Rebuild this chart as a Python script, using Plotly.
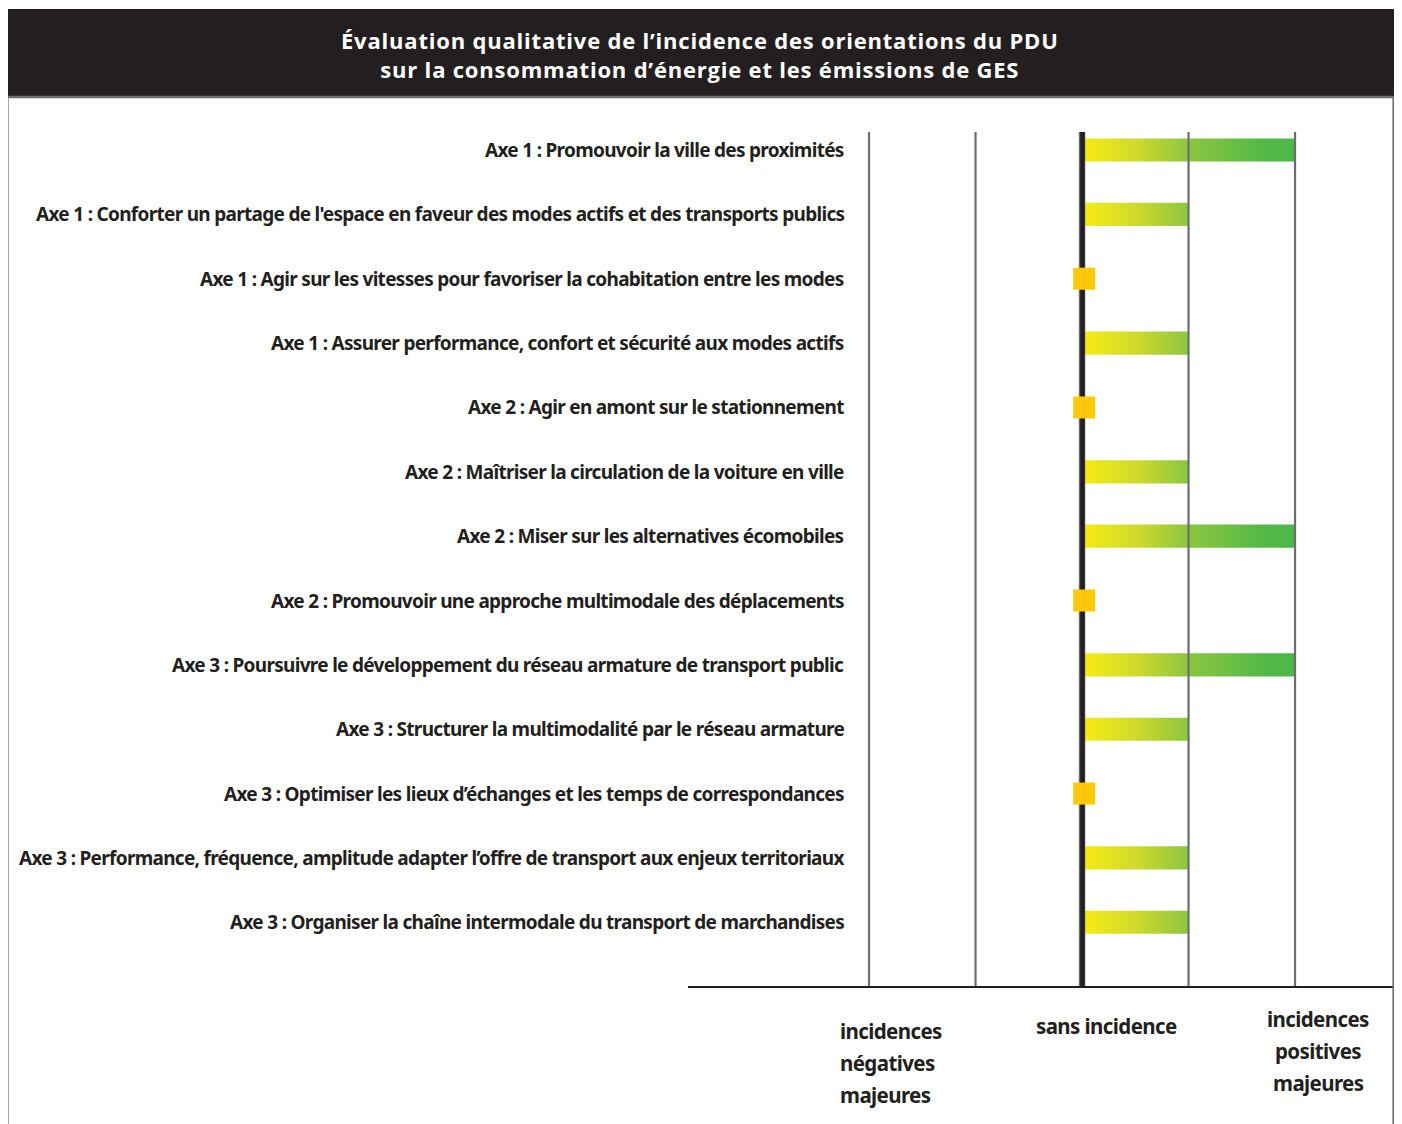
import plotly.graph_objects as go

# ---------------- data ----------------
categories = [
    "Axe 1 : Promouvoir la ville des proximités",
    "Axe 1 : Conforter un partage de l'espace en faveur des modes actifs et des transports publics",
    "Axe 1 : Agir sur les vitesses pour favoriser la cohabitation entre les modes",
    "Axe 1 : Assurer performance, confort et sécurité aux modes actifs",
    "Axe 2 : Agir en amont sur le stationnement",
    "Axe 2 : Maîtriser la circulation de la voiture en ville",
    "Axe 2 : Miser sur les alternatives écomobiles",
    "Axe 2 : Promouvoir une approche multimodale des déplacements",
    "Axe 3 : Poursuivre le développement du réseau armature de transport public",
    "Axe 3 : Structurer la multimodalité par le réseau armature",
    "Axe 3 : Optimiser les lieux d’échanges et les temps de correspondances",
    "Axe 3 : Performance, fréquence, amplitude adapter l’offre de transport aux enjeux territoriaux",
    "Axe 3 : Organiser la chaîne intermodale du transport de marchandises",
]
scores = [2, 1, 0, 1, 0, 1, 2, 0, 2, 1, 0, 1, 1]
grid_values = [-2, -1, 1, 2]
zero_value = 0
title_lines = ["Évaluation qualitative de l’incidence des orientations du PDU",
               "sur la consommation d’énergie et les émissions de GES"]
left_label = ["incidences", "négatives", "majeures"]
mid_label = ["sans incidence"]
right_label = ["incidences", "positives", "majeures"]

# ---------------- layout geometry ----------------
PAGE_OFF = 8            # default body margin of the html page
W, H = 1394, 1116
X_RANGE = [-3.70, 2.92]
Y_RANGE = [12.99, -0.28]
BAR_HALF = 0.18
LABEL_FONT = "Noto Sans, sans-serif"
DARK = "#231f20"
GRAY = "#6d6e71"


def px_x(p):
    return (p - PAGE_OFF) / W


def px_y(p):
    return 1 - (p - PAGE_OFF) / H


def cond(t, ls):
    return ('<span style="font-stretch:condensed;letter-spacing:%spx">' % ls) + t + '</span>'


fig = go.Figure()

# gradient bars
for i, v in enumerate(scores):
    if v > 0:
        fig.add_trace(go.Scatter(
            x=[0, v, v, 0, 0],
            y=[i - BAR_HALF, i - BAR_HALF, i + BAR_HALF, i + BAR_HALF, i - BAR_HALF],
            mode="lines", line=dict(width=0), fill="toself",
            fillgradient=dict(type="horizontal", start=0, stop=2,
                              colorscale=[[0, "#f8ec12"], [0.25, "#cfdb2c"],
                                          [0.5, "#8cc63f"], [0.85, "#52b848"],
                                          [1, "#4cb748"]]),
            hoverinfo="skip", showlegend=False,
        ))

# grid lines (drawn over the bars)
for g in grid_values:
    fig.add_trace(go.Scatter(x=[g, g], y=[Y_RANGE[1], Y_RANGE[0]], mode="lines",
                             line=dict(color=GRAY, width=2.2),
                             hoverinfo="skip", showlegend=False))
fig.add_trace(go.Scatter(x=[zero_value, zero_value], y=[Y_RANGE[1], Y_RANGE[0]], mode="lines",
                         line=dict(color=GRAY, width=6.5),
                         hoverinfo="skip", showlegend=False))
fig.add_trace(go.Scatter(x=[zero_value + 0.004, zero_value + 0.004], y=[Y_RANGE[1], Y_RANGE[0]],
                         mode="lines", line=dict(color=DARK, width=4.5),
                         hoverinfo="skip", showlegend=False))

# neutral squares
neutral_idx = [i for i, v in enumerate(scores) if v == 0]
fig.add_trace(go.Scatter(
    x=[scores[i] + 0.02 for i in neutral_idx], y=neutral_idx, mode="markers",
    marker=dict(symbol="square", size=22, color="#ffc90a", line=dict(width=0)),
    hoverinfo="skip", showlegend=False,
))

annotations = []
for i, c in enumerate(categories):
    annotations.append(dict(
        x=px_x(846), xref="paper", y=i, yref="y", text=cond(c, -0.7), showarrow=False,
        xanchor="right", yanchor="middle",
        font=dict(family=LABEL_FONT, size=19, color=DARK, weight="bold"),
    ))

# title (two lines in one text block)
annotations.append(dict(
    x=px_x(700), xref="paper", y=px_y(54.5), yref="paper",
    text='<span style="letter-spacing:0.8px">' + "<br>".join(title_lines) + "</span>",
    showarrow=False, xanchor="center", yanchor="middle", align="center",
    font=dict(family="Open Sans, Lato, sans-serif", size=22, color="white", weight="bold"),
))


def add_lines(lines, x, y0, step, anchor):
    for k, t in enumerate(lines):
        annotations.append(dict(
            x=px_x(x), xref="paper", y=px_y(y0 + step * k), yref="paper", text=cond(t, -0.6),
            showarrow=False, xanchor=anchor, yanchor="middle",
            font=dict(family=LABEL_FONT, size=20.5, color=DARK, weight="bold"),
        ))


add_lines(left_label, 838, 1031, 32, "left")
add_lines(mid_label, 1106, 1026, 32, "center")
add_lines(right_label, 1318, 1019, 32, "center")

shapes = [
    # title bar
    dict(type="rect", xref="paper", yref="paper", x0=px_x(6), x1=px_x(1396),
         y0=px_y(96), y1=px_y(9), fillcolor=DARK, line=dict(width=0), layer="below"),
    dict(type="line", xref="paper", yref="paper", x0=px_x(6), x1=px_x(1396),
         y0=px_y(97), y1=px_y(97), line=dict(color=GRAY, width=2.5)),
    # frame
    dict(type="line", xref="paper", yref="paper", x0=px_x(7.5), x1=px_x(7.5),
         y0=px_y(97), y1=px_y(1124), line=dict(color=GRAY, width=2.2)),
    dict(type="line", xref="paper", yref="paper", x0=px_x(1393.5), x1=px_x(1393.5),
         y0=px_y(97), y1=px_y(1124), line=dict(color=GRAY, width=2.2)),
]

fig.update_layout(
    width=W, height=H, margin=dict(l=0, r=0, t=0, b=0),
    paper_bgcolor="white", plot_bgcolor="rgba(0,0,0,0)",
    showlegend=False, annotations=annotations, shapes=shapes,
    xaxis=dict(domain=[px_x(688), px_x(1393)], range=X_RANGE, showgrid=False,
               zeroline=False, showticklabels=False, ticks="",
               showline=True, linecolor=DARK, linewidth=1.5, fixedrange=True),
    yaxis=dict(domain=[px_y(986), px_y(132)], range=Y_RANGE, showgrid=False,
               zeroline=False, showticklabels=False, ticks="", showline=False,
               fixedrange=True),
)

fig.write_html("out.html")
